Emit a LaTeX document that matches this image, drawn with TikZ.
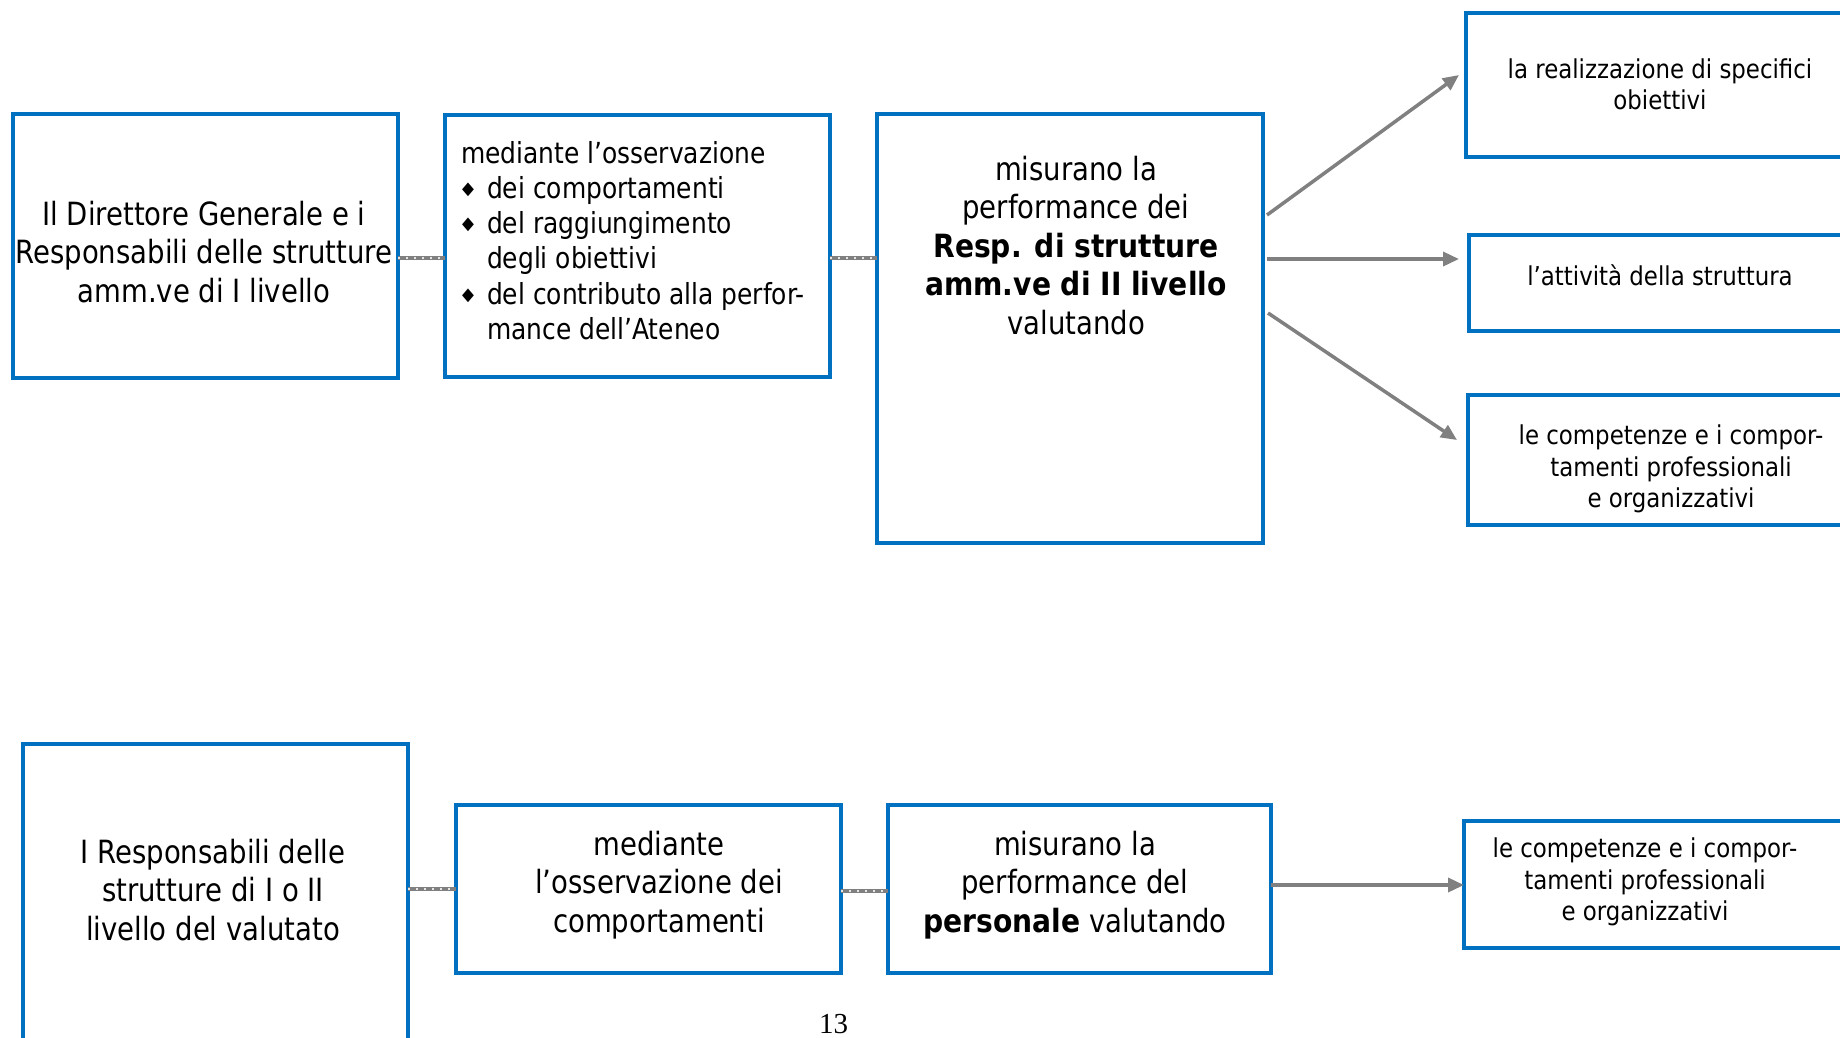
\documentclass[tikz,border=0pt]{standalone}
\usepackage{fontspec}
\setmainfont{DejaVu Sans}[FakeStretch=0.86, BoldFeatures={FakeStretch=0.88}]
\newfontfamily\rightfont{DejaVu Sans}[FakeStretch=0.88]
\newfontfamily\pagefont{Liberation Serif}
\usetikzlibrary{arrows.meta,calc}
\definecolor{boxblue}{HTML}{0070C0}
\definecolor{linegray}{HTML}{808080}
\newcommand{\blt}{\makebox[26pt][l]{\hspace{1pt}\raisebox{4pt}{\fontsize{18}{18}\selectfont ◆}}}
\newcommand{\hangin}{\hspace*{26pt}}

\begin{document}
\begin{tikzpicture}[x=1pt,y=-1pt,
  box/.style={draw=boxblue, line width=4pt, inner sep=0pt, outer sep=0pt, anchor=north west, rectangle},
  txt/.style={inner sep=0pt, outer sep=0pt, anchor=north, align=center, text=black},
  big/.style={font=\fontsize{32}{38.5}\selectfont},
  mid/.style={font=\fontsize{29}{35.3}\selectfont},
  small/.style={font=\rightfont\fontsize{26}{31.5}\selectfont},
  link/.style={draw=linegray, line width=4pt,
    postaction={draw=white!80!linegray, line width=1.4pt, dash pattern=on 1.5pt off 6.5pt}},
  arr/.style={draw=linegray, line width=3.5pt, -{Triangle[length=16pt,width=14pt]}}]

\fill[white] (0,0) rectangle (1840,1037);
\path[use as bounding box] (0,0) rectangle (1840,1037);
\clip (0,0) rectangle (1840,1037);

% top row boxes
\node[box, minimum width=385pt, minimum height=264pt] (b1) at (13,114) {};
\node[box, minimum width=385pt, minimum height=262pt] (b2) at (445,115) {};
\node[box, minimum width=386pt, minimum height=429pt] (b3) at (877,114) {};
\node[box, minimum width=500pt, minimum height=144pt] (rA) at (1466,13) {};
\node[box, minimum width=500pt, minimum height=96pt] (rB) at (1469,235) {};
\node[box, minimum width=500pt, minimum height=130pt] (rC) at (1468,395) {};

% bottom row boxes
\node[box, minimum width=385pt, minimum height=400pt] (bD) at (23,744) {};
\node[box, minimum width=385pt, minimum height=168pt] (bE) at (456,805) {};
\node[box, minimum width=383pt, minimum height=168pt] (bF) at (888,805) {};
\node[box, minimum width=500pt, minimum height=127pt] (bG) at (1464,821) {};

% texts
\node[txt, big] (t1) at (204,200.7) {Il Direttore Generale e i\\Responsabili delle strutture\\amm.ve di I livello};
\node[txt, mid, anchor=north west, align=left] (t2) at (461,141) {mediante l’osservazione\\
\blt dei comportamenti\\
\blt del raggiungimento\\
\hangin degli obiettivi\\
\blt del contributo alla perfor-\\
\hangin mance dell’Ateneo};
\node[txt, big] (t3) at (1076,155.7) {misurano la\\performance dei\\\textbf{Resp. di strutture}\\\textbf{amm.ve di II livello}\\valutando};
\node[txt, small] (tA) at (1660,58.7) {la realizzazione di specifici\\obiettivi};
\node[txt, small] (tB) at (1660,265) {l’attività della struttura};
\node[txt, small] (tC) at (1671,425) {le competenze e i compor-\\tamenti professionali\\e organizzativi};

\node[txt, big] (tD) at (213,839) {I Responsabili delle\\strutture di I o II\\livello del valutato};
\node[txt, big] (tE) at (659,831) {mediante\\l’osservazione dei\\comportamenti};
\node[txt, big] (tF) at (1075,831) {misurano la\\performance del\\\textbf{personale} valutando};
\node[txt, small] (tG) at (1645,838) {le competenze e i compor-\\tamenti professionali\\e organizzativi};

\node[inner sep=0pt, anchor=base, font=\pagefont\fontsize{29}{29}\selectfont] (pg) at (833.5,1033) {13};

% connectors
\coordinate (c1) at ($(b1.north east)+(0,144)$);
\coordinate (c2) at ($(b2.north east)+(0,143)$);
\coordinate (c3) at ($(bD.north east)+(0,145)$);
\coordinate (c4) at ($(bE.north east)+(0,86)$);
\coordinate (c5) at ($(bF.north east)+(0,80)$);
\draw[link] (c1) -- (b2.west |- c1);
\draw[link] (c2) -- (b3.west |- c2);
\draw[link] (c3) -- (bE.west |- c3);
\draw[link] (c4) -- (bF.west |- c4);

\draw[arr] ($(b3.north east)+(4,101)$) -- ($(rA.north west)+(-7,62)$);
\draw[arr] ($(b3.north east)+(4,145)$) -- ($(rB.north west)+(-10,24)$);
\draw[arr] ($(b3.north east)+(5,199)$) -- ($(rC.north west)+(-11,45)$);
\draw[arr] (c5) -- (bG.west |- c5);
\end{tikzpicture}
\end{document}
